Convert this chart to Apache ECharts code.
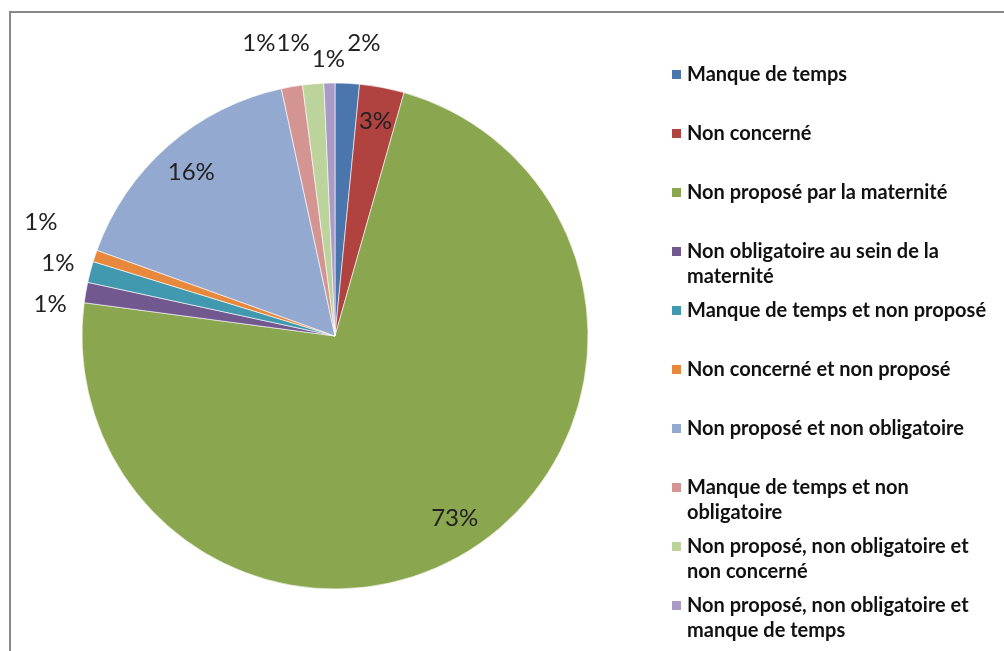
<!DOCTYPE html>
<html>
<head>
<meta charset="utf-8">
<script src="https://cdn.jsdelivr.net/npm/echarts@6/dist/echarts.min.js"></script>
<style>
  html, body { margin: 0; padding: 0; background: #fff; }
  #chart { width: 1004px; height: 651px; }
</style>
</head>
<body>
<div id="chart"></div>
<script>
// categories, clockwise from 12 o'clock
const categories = [
  "Manque de temps",
  "Non concerné",
  "Non proposé par la maternité",
  "Non obligatoire au sein de la maternité",
  "Manque de temps et non proposé",
  "Non concerné et non proposé",
  "Non proposé et non obligatoire",
  "Manque de temps et non obligatoire",
  "Non proposé, non obligatoire et non concerné",
  "Non proposé, non obligatoire et manque de temps"
];
// shares in %
const shares = [1.55, 2.85, 72.7, 1.3, 1.35, 0.75, 16.1, 1.35, 1.35, 0.7];
const colors = ["#4a76ad", "#b0433f", "#8aa64e", "#71588f", "#4199b0",
                "#e8883c", "#93a9cf", "#d49592", "#bcd39b", "#a99bc6"];

// big slices get their label inside, near the rim
const insideIdx = [1, 2, 6];
// outside label nudges (labelLine length / length2), like excel's placement
const lineLen  = [40, 0, 0, -67, 35, 107, 0, 44, 41, 24];
const lineLen2 = [-2, 0, 0, 85, -18, -64, 0, 9, 0, -16];

const cx = 335, cy = 336, R = 253;
const labelFont = { fontFamily: "Lato", fontSize: 24, color: "#222" };

const chart = echarts.init(document.getElementById("chart"));

function pct(p) { return Math.round(p.percent) + "%"; }

// greedy wrap for the legend, then pad so the swatch sits on the first line
function legendText(name) {
  const words = name.split(" ");
  const lines = [];
  let cur = "";
  words.forEach(function (w) {
    const t = cur ? cur + " " + w : w;
    if (t.length > 31 && cur) { lines.push(cur); cur = w; } else { cur = t; }
  });
  lines.push(cur);
  return lines.length > 1 ? "\n" + lines.join("\n") : "\n" + lines[0] + "\n";
}

const mainData = categories.map(function (name, i) {
  const inside = insideIdx.indexOf(i) >= 0;
  return {
    name: name,
    value: shares[i],
    itemStyle: { color: colors[i] },
    label: { show: !inside },
    labelLine: { length: lineLen[i], length2: lineLen2[i] }
  };
});

const ringData = categories.map(function (name, i) {
  return {
    name: name,
    value: shares[i],
    label: { show: insideIdx.indexOf(i) >= 0 }
  };
});

var option = {
  animation: false,
  backgroundColor: "#fff",
  graphic: [{
    type: "rect",
    shape: { x: 10, y: 12, width: 1100, height: 700 },
    style: { fill: "none", stroke: "#888", lineWidth: 2 },
    silent: true
  }],
  legend: {
    orient: "vertical",
    left: 670,
    top: 37,
    padding: 0,
    itemGap: -16,
    itemWidth: 11,
    itemHeight: 11,
    icon: "rect",
    selectedMode: false,
    data: categories,
    formatter: legendText,
    textStyle: {
      fontFamily: "Lato",
      fontWeight: "bold",
      fontSize: 20,
      lineHeight: 25,
      color: "#111"
    }
  },
  series: [
    {
      type: "pie",
      center: [cx, cy],
      radius: R,
      startAngle: 90,
      avoidLabelOverlap: false,
      emphasis: { disabled: true },
      itemStyle: { borderColor: "#fff", borderWidth: 0.6 },
      label: Object.assign({ position: "outside", formatter: pct, distanceToLabelLine: 0 }, labelFont),
      labelLine: { show: false },
      data: mainData
    },
    {
      // transparent ring, only used to park the inside labels near the rim
      type: "pie",
      center: [cx, cy],
      radius: [R * 0.7, R],
      startAngle: 90,
      silent: true,
      avoidLabelOverlap: false,
      emphasis: { disabled: true },
      itemStyle: { color: "rgba(0,0,0,0)" },
      label: Object.assign({ position: "inside", formatter: pct }, labelFont),
      labelLine: { show: false },
      data: ringData
    }
  ]
};

chart.setOption(option);
</script>
</body>
</html>
